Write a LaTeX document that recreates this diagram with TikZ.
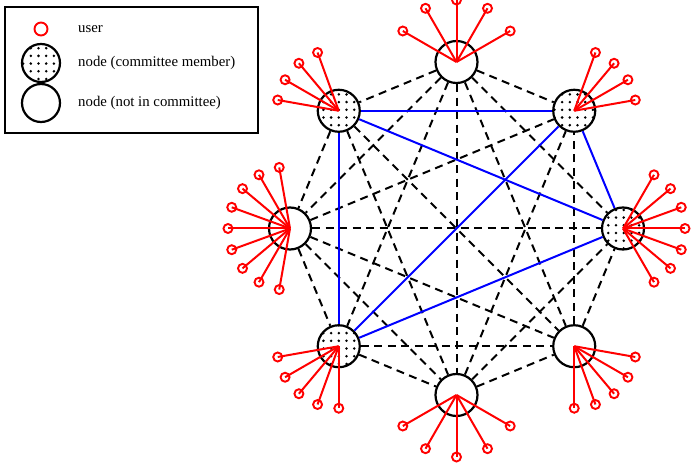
\documentclass[tikz,border=0pt]{standalone}
\usepackage{fontspec}
\setmainfont{Liberation Serif}
\usetikzlibrary{patterns,positioning}

\pgfdeclarepatternformonly{bigdots}{\pgfqpoint{-2pt}{-2pt}}{\pgfqpoint{2pt}{2pt}}{\pgfqpoint{7.7pt}{7.7pt}}{%
  \pgfpathcircle{\pgfqpoint{0pt}{0pt}}{1.4pt}\pgfusepath{fill}}

\begin{document}
\begin{tikzpicture}[
      x=1pt, y=1pt,
      font=\fontsize{14.8}{17}\selectfont
    ]

    \tikzstyle{peer} = [
        circle,
        draw,
        line width=2.2pt,
        minimum size=42pt,
        inner sep=0pt
    ]

    \tikzstyle{member} = [
        peer,
        pattern=bigdots
    ]

    \tikzstyle{user} = [
        circle,
        draw=red,
        line width=1.9pt,
        minimum size=9pt,
        inner sep=0pt
    ]

    \tikzstyle{userline} = [draw=red, line width=2pt]
    \tikzstyle{link} = [draw, line width=2pt, dash pattern=on 8pt off 5.5pt]
    \tikzstyle{vote} = [draw=blue, line width=2pt]
    \tikzstyle{keytext} = [inner sep=0pt]

    \useasboundingbox (0,0) rectangle (691,464);

    % legend
    \draw[line width=2pt] (5,331) rectangle (258,457);
    \node [user, minimum size=13pt]     (keyuser)   at (41,435) {};
    \node [member, minimum size=38pt]   (keymember) at (41,401) {};
    \node [peer, minimum size=38pt]     (keypeer)   at (41,361) {};
    \node [keytext, right=37pt of keyuser.center]   {user};
    \node [keytext, right=37pt of keymember.center] {node (committee member)};
    \node [keytext, right=37pt of keypeer.center]   {node (not in committee)};

    % nodes on the ring
    \begin{scope}[shift={(456.5,235.5)}]
    \node [peer]   (n1) at (90:166.5)  {};
    \node [member] (n2) at (135:166.5) {};
    \node [peer]   (n3) at (180:166.5) {};
    \node [member] (n4) at (225:166.5) {};
    \node [peer]   (n5) at (270:166.5) {};
    \node [peer]   (n6) at (315:166.5) {};
    \node [member] (n7) at (0:166.5)   {};
    \node [member] (n8) at (45:166.5)  {};
    \end{scope}

    \foreach \a/\b in {1/2,1/3,1/4,1/5,1/6,1/7,1/8,2/3,2/5,2/6,3/4,3/5,3/6,3/7,3/8,4/5,4/6,5/6,5/7,5/8,6/7,6/8}
        \path [link] (n\a) -- (n\b);
    \foreach \a/\b in {2/4,2/7,2/8,4/7,4/8,7/8}
        \path [vote] (n\a) -- (n\b);

    % users of each node
    \foreach \n/\angs in {1/{30,60,...,150}, 2/{110,130,...,170}, 3/{100,120,...,260},
                          4/{190,210,...,270}, 5/{210,240,...,330}, 6/{270,290,...,350},
                          7/{-60,-40,...,60}, 8/{10,30,...,70}} {
        \foreach \a in \angs {
            \node [user] (u\n-\a) at ([shift={(\a:62)}]n\n.center) {};
            \path [userline] (n\n.center) -- (u\n-\a.center);
        }
    }

\end{tikzpicture}
\end{document}
